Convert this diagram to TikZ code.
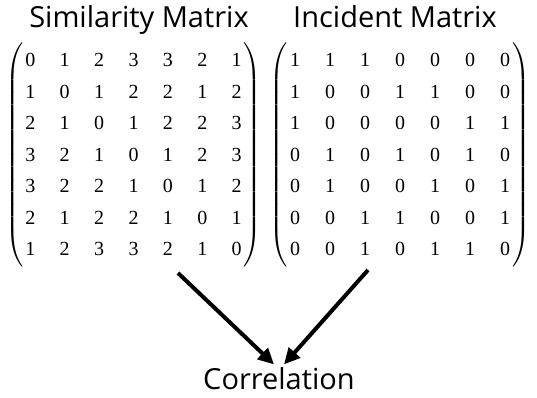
\documentclass[tikz,border=0pt]{standalone}
\usepackage{amsmath}
\usepackage{fontspec}
\setmainfont{Open Sans}
\newfontfamily\matfont{Liberation Serif}
\usetikzlibrary{arrows.meta}

% a 7x7 table of digits between round brackets
\newcommand{\digitmat}[2]{$\left(\vcenter{\hbox{\matfont\def\arraystretch{1.31}%
  \setlength{\tabcolsep}{#1}%
  \begin{tabular}{@{\hspace{2pt}}ccccccc@{\hspace{2pt}}}#2\end{tabular}}}\right)$}

\begin{document}
\begin{tikzpicture}[x=1pt, y=1pt,
    title/.style={font=\fontsize{29}{34}\selectfont, anchor=base},
    mat/.style={inner sep=0pt, font=\fontsize{20}{24}\selectfont},
    arrow/.style={line width=4pt, -{Triangle[length=16pt,width=15pt]}}]
    \useasboundingbox (0,0) rectangle (537,398);
    % titles
    \node[title] (simtitle) at (139,370) {Similarity Matrix};
    \node[title] (inctitle) at (395,370) {Incident Matrix};
    % the two matrices
    \node[mat] (simmat) at (133.5,243) {\digitmat{12.2pt}{%
        0 & 1 & 2 & 3 & 3 & 2 & 1\\
        1 & 0 & 1 & 2 & 2 & 1 & 2\\
        2 & 1 & 0 & 1 & 2 & 2 & 3\\
        3 & 2 & 1 & 0 & 1 & 2 & 3\\
        3 & 2 & 2 & 1 & 0 & 1 & 2\\
        2 & 1 & 2 & 2 & 1 & 0 & 1\\
        1 & 2 & 3 & 3 & 2 & 1 & 0}};
    \node[mat] (incmat) at (400,243) {\digitmat{12.5pt}{%
        1 & 1 & 1 & 0 & 0 & 0 & 0\\
        1 & 0 & 0 & 1 & 1 & 0 & 0\\
        1 & 0 & 0 & 0 & 0 & 1 & 1\\
        0 & 1 & 0 & 1 & 0 & 1 & 0\\
        0 & 1 & 0 & 0 & 1 & 0 & 1\\
        0 & 0 & 1 & 1 & 0 & 0 & 1\\
        0 & 0 & 1 & 0 & 1 & 1 & 0}};
    % result
    \node[title] (corr) at (279,8) {Correlation};
    \coordinate (simout) at (178,125);
    \coordinate (incout) at (368,128);
    \draw[arrow] (simout) -- ([xshift=-5pt]corr.north);
    \draw[arrow] (incout) -- ([xshift=5pt]corr.north);
\end{tikzpicture}
\end{document}
